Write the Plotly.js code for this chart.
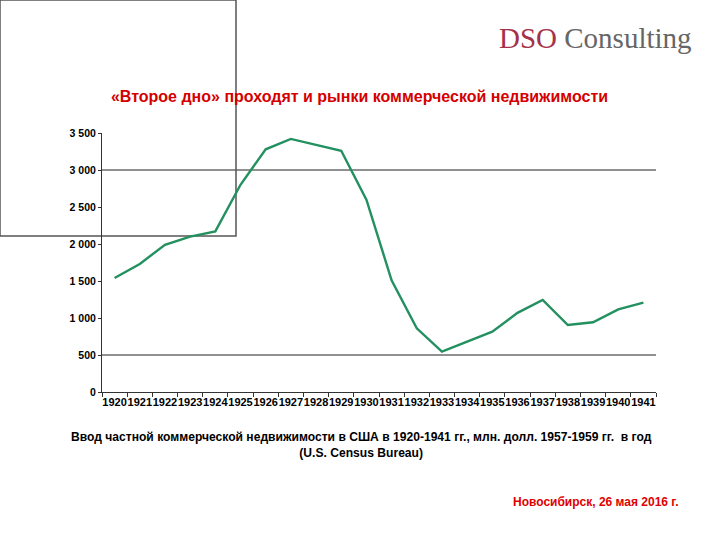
<!DOCTYPE html>
<html><head><meta charset="utf-8">
<script src="https://cdn.plot.ly/plotly-3.0.1.min.js"></script>
<style>html,body{margin:0;padding:0;background:#fff;}#chart{width:720px;height:540px;}</style>
</head><body><div id="chart"></div>
<script>
const years = ['1920','1921','1922','1923','1924','1925','1926','1927','1928','1929','1930','1931','1932','1933','1934','1935','1936','1937','1938','1939','1940','1941'];
const values = [1540,1730,1990,2100,2170,2800,3280,3420,3340,3260,2600,1510,860,545,680,815,1070,1245,905,942,1117,1207];
const yTicks = [0,500,1000,1500,2000,2500,3000,3500];
const yTickLabels = ['0','500','1 000','1 500','2 000','2 500','3 000','3 500'];
const gridValues = [500,3000];

const trace = {x: years, y: values, type:'scatter', mode:'lines',
  line:{color:'#23905f', width:2.4}, hoverinfo:'skip'};

const shapes = gridValues.map(v => ({type:'line', xref:'paper', yref:'y', x0:0, x1:1, y0:v, y1:v,
  line:{color:'#222', width:1}, layer:'below'}));
shapes.push({type:'rect', xref:'paper', yref:'paper', xsizemode:'pixel', ysizemode:'pixel',
  xanchor:0, yanchor:1, x0:-102, x1:134, y0:133, y1:-103,
  line:{color:'#555', width:1.5}, fillcolor:'rgba(0,0,0,0)', layer:'below'});

const FONT = 'Liberation Sans, Arial, sans-serif';
const layout = {
  width:720, height:540,
  margin:{l:102, r:64, t:133, b:148},
  paper_bgcolor:'#fff', plot_bgcolor:'#fff',
  showlegend:false,
  font:{family:FONT, color:'#000'},
  title:{text:'<b>«Второе дно» проходят и рынки коммерческой недвижимости</b>',
    font:{size:16, color:'#d40000', family:FONT},
    x:0.4993, xref:'container', xanchor:'center', y:0.822, yref:'container', yanchor:'middle'},
  xaxis:{type:'category', showgrid:false, showline:true, linecolor:'#333', linewidth:1,
    ticks:'outside', ticklen:4, tickcolor:'#333', tickson:'boundaries',
    tickvals: years, ticktext: years.map(y => '<b>' + y + '</b>'),
    tickfont:{size:11, family:FONT, color:'#000'},
    tickangle:0, range:[-0.5,21.5], automargin:false},
  yaxis:{range:[0,3500], tickvals:yTicks, ticktext:yTickLabels.map(t => '<b>' + t + '</b>'),
    showgrid:false, zeroline:false,
    showline:true, linecolor:'#333', linewidth:1, ticks:'outside', ticklen:3, tickcolor:'#333',
    tickfont:{size:10.5, family:FONT, color:'#000'},
    automargin:false},
  shapes: shapes,
  annotations:[
    {xref:'paper', yref:'paper', x:0.469, y:-0.14, xanchor:'center', yanchor:'top', showarrow:false, align:'center',
     text:'<b>Ввод частной коммерческой недвижимости в США в 1920-1941 гг., млн. долл. 1957-1959 гг.  в год</b><br><b>(U.S. Census Bureau)</b>',
     font:{size:12.1, color:'#000'}},
    {xref:'paper', yref:'paper', x:1.043, y:-0.425, xanchor:'right', yanchor:'middle', showarrow:false,
     text:'<b>Новосибирск, 26 мая 2016 г.</b>', font:{size:12, color:'#e00000'}},
    {xref:'paper', yref:'paper', x:0.89, y:1.365, xanchor:'center', yanchor:'middle', showarrow:false,
     text:'<span style="color:#a3324a">DSO</span> <span style="color:#666">Consulting</span>',
     font:{size:29, family:'Liberation Serif, DejaVu Serif, serif'}}
  ]
};
Plotly.newPlot('chart',[trace],layout,{displayModeBar:false, staticPlot:true});
</script></body></html>
